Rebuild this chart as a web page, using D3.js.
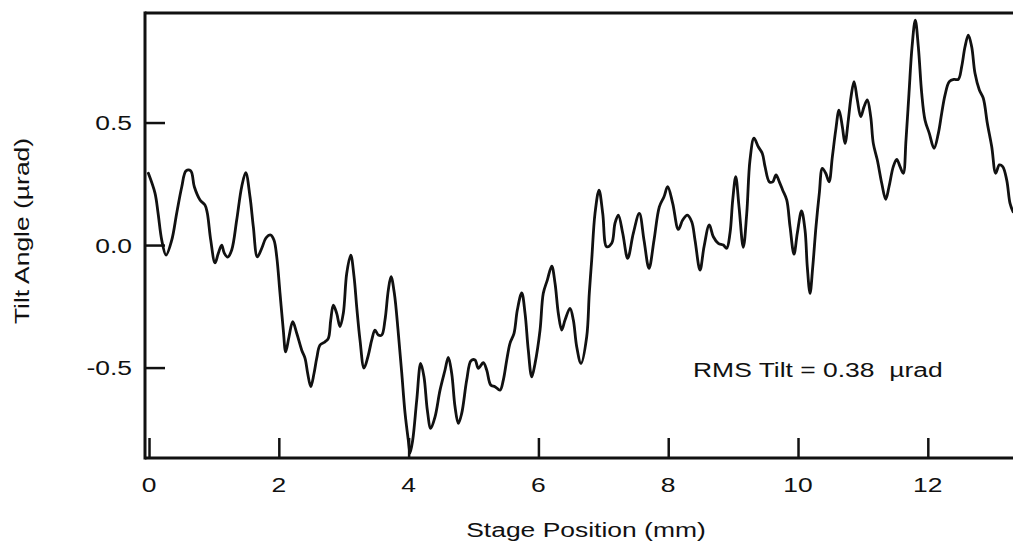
<!DOCTYPE html>
<html>
<head>
<meta charset="utf-8">
<script src="https://cdn.jsdelivr.net/npm/d3@7"></script>
<style>
  html, body { margin: 0; padding: 0; background: #fff; }
  svg { display: block; }
  text { font-family: "Liberation Sans", Arial, Helvetica, sans-serif; font-size: 21px; fill: #111; }
</style>
</head>
<body>
<svg id="chart" width="1013" height="544"></svg>
<script>
// ---- data ----
const xTicks = [0, 2, 4, 6, 8, 10, 12];
const xTickLabels = ["0", "2", "4", "6", "8", "10", "12"];
const yTicks = [-0.5, 0, 0.5];
const yTickLabels = ["-0.5", "0.0", "0.5"];
const xLabel = "Stage Position (mm)";
const yLabel = "Tilt Angle (\u00b5rad)";
const annotation = "RMS Tilt = 0.38 \u00a0\u00b5rad";

// stage position (mm)
const position = [
  -0.01, 0.092, 0.139, 0.196, 0.262, 0.350, 0.427, 0.504, 0.570, 0.643,
  0.698, 0.786, 0.863, 0.898, 0.951, 1.017, 1.068, 1.120, 1.160, 1.213,
  1.274, 1.351, 1.428, 1.490, 1.556, 1.607, 1.669, 1.737, 1.803, 1.875,
  1.926, 1.968, 2.018, 2.069, 2.106, 2.157, 2.214, 2.276, 2.353, 2.404,
  2.445, 2.492, 2.542, 2.584, 2.635, 2.712, 2.763, 2.800, 2.840, 2.892,
  2.943, 2.994, 3.046, 3.108, 3.159, 3.200, 3.251, 3.313, 3.379, 3.431,
  3.482, 3.533, 3.586, 3.636, 3.687, 3.729, 3.780, 3.841, 3.894, 3.945,
  3.995, 4.022, 4.063, 4.125, 4.186, 4.237, 4.288, 4.341, 4.407, 4.484,
  4.561, 4.612, 4.664, 4.715, 4.766, 4.818, 4.895, 4.961, 5.023, 5.074,
  5.151, 5.203, 5.265, 5.331, 5.408, 5.459, 5.512, 5.562, 5.624, 5.675,
  5.743, 5.794, 5.844, 5.897, 5.948, 6.025, 6.075, 6.137, 6.205, 6.256,
  6.307, 6.359, 6.410, 6.487, 6.538, 6.590, 6.656, 6.744, 6.784, 6.821,
  6.872, 6.934, 6.991, 7.052, 7.129, 7.180, 7.231, 7.299, 7.376, 7.462,
  7.555, 7.627, 7.704, 7.781, 7.863, 7.935, 7.992, 8.069, 8.156, 8.223,
  8.294, 8.362, 8.413, 8.490, 8.552, 8.633, 8.695, 8.772, 8.849, 8.901,
  8.952, 8.994, 9.040, 9.091, 9.157, 9.210, 9.260, 9.322, 9.388, 9.450,
  9.492, 9.558, 9.610, 9.661, 9.712, 9.764, 9.826, 9.877, 9.938, 9.989,
  10.054, 10.108, 10.143, 10.185, 10.227, 10.277, 10.328, 10.375, 10.427, 10.478,
  10.529, 10.581, 10.632, 10.683, 10.724, 10.775, 10.817, 10.863, 10.914, 10.966,
  11.017, 11.068, 11.120, 11.160, 11.222, 11.290, 11.351, 11.402, 11.468, 11.521,
  11.572, 11.622, 11.664, 11.710, 11.757, 11.807, 11.854, 11.906, 11.957, 12.023,
  12.096, 12.162, 12.214, 12.265, 12.331, 12.404, 12.470, 12.522, 12.573, 12.624,
  12.676, 12.727, 12.794, 12.855, 12.917, 12.985, 13.046, 13.102, 13.154, 13.216,
  13.267, 13.313
];

// tilt angle (µrad)
const tilt = [
  0.293, 0.212, 0.131, 0.020, -0.041, 0.020, 0.131, 0.237, 0.303, 0.303,
  0.238, 0.184, 0.163, 0.131, 0.020, -0.073, -0.033, 0.000, -0.033, -0.049,
  -0.020, 0.102, 0.238, 0.295, 0.197, 0.075, -0.048, -0.013, 0.029, 0.041,
  0.020, -0.048, -0.196, -0.347, -0.436, -0.374, -0.313, -0.360, -0.429, -0.462,
  -0.524, -0.578, -0.524, -0.462, -0.408, -0.395, -0.381, -0.306, -0.245, -0.279,
  -0.333, -0.278, -0.116, -0.041, -0.129, -0.252, -0.388, -0.502, -0.449, -0.388,
  -0.347, -0.367, -0.367, -0.306, -0.184, -0.129, -0.197, -0.359, -0.522, -0.686,
  -0.796, -0.849, -0.796, -0.633, -0.483, -0.538, -0.673, -0.748, -0.701, -0.592,
  -0.510, -0.458, -0.524, -0.660, -0.728, -0.687, -0.551, -0.472, -0.469, -0.503,
  -0.480, -0.510, -0.571, -0.578, -0.592, -0.551, -0.469, -0.401, -0.360, -0.265,
  -0.195, -0.279, -0.429, -0.538, -0.483, -0.347, -0.197, -0.143, -0.086, -0.156,
  -0.279, -0.347, -0.306, -0.258, -0.306, -0.415, -0.483, -0.374, -0.196, -0.061,
  0.129, 0.224, 0.129, -0.007, 0.007, 0.089, 0.122, 0.048, -0.054, 0.048,
  0.129, 0.020, -0.095, 0.020, 0.156, 0.197, 0.238, 0.170, 0.064, 0.102,
  0.122, 0.095, 0.020, -0.102, -0.007, 0.082, 0.034, 0.007, 0.000, -0.013,
  0.048, 0.184, 0.279, 0.156, -0.009, 0.129, 0.347, 0.436, 0.401, 0.374,
  0.320, 0.258, 0.258, 0.286, 0.258, 0.224, 0.184, 0.075, -0.037, 0.048,
  0.139, 0.061, -0.089, -0.197, -0.089, 0.075, 0.211, 0.313, 0.293, 0.258,
  0.360, 0.469, 0.551, 0.483, 0.415, 0.510, 0.605, 0.667, 0.592, 0.524,
  0.564, 0.592, 0.524, 0.415, 0.347, 0.252, 0.187, 0.238, 0.320, 0.350,
  0.320, 0.293, 0.429, 0.619, 0.809, 0.918, 0.809, 0.619, 0.510, 0.456,
  0.395, 0.456, 0.538, 0.612, 0.667, 0.676, 0.676, 0.728, 0.809, 0.857,
  0.809, 0.701, 0.633, 0.599, 0.497, 0.401, 0.293, 0.327, 0.320, 0.265,
  0.170, 0.136
];

// ---- layout ----
const W = 1013, H = 544;
const plot = { left: 145, right: 1014, top: 13, bottom: 458 };
const SX = 1.26;          // horizontal glyph expansion of the original typeface
const TICK = 20;

const svg = d3.select("#chart");

const x = d3.scaleLinear().domain([-0.062, 13.328]).range([plot.left, plot.right]);
const y = d3.scaleLinear().domain([-0.869, 0.947]).range([plot.bottom, plot.top]);

// clip
svg.append("defs").append("clipPath").attr("id", "clip")
  .append("rect").attr("x", plot.left).attr("y", plot.top - 2)
  .attr("width", plot.right - plot.left).attr("height", plot.bottom - plot.top + 2);

// data line
const data = position.map((p, i) => [p, tilt[i]]);
const line = d3.line().x(d => x(d[0])).y(d => y(d[1])).curve(d3.curveCatmullRom.alpha(0.5));
svg.append("path")
  .attr("clip-path", "url(#clip)")
  .attr("d", line(data))
  .attr("fill", "none")
  .attr("stroke", "#111")
  .attr("stroke-width", 2.8)
  .attr("stroke-linejoin", "round")
  .attr("stroke-linecap", "round");

// axes (ticks pointing inward)
const xAxis = d3.axisBottom(x).tickValues(xTicks).tickSize(-TICK).tickFormat("");
const gx = svg.append("g").attr("transform", `translate(0,${plot.bottom})`).call(xAxis);
gx.select(".domain").remove();
gx.selectAll(".tick line").attr("stroke", "#111").attr("stroke-width", 2.5);

const yAxis = d3.axisLeft(y).tickValues(yTicks).tickSize(-TICK).tickFormat("");
const gy = svg.append("g").attr("transform", `translate(${plot.left},0)`).call(yAxis);
gy.select(".domain").remove();
gy.selectAll(".tick line").attr("stroke", "#111").attr("stroke-width", 2.5);

// frame (top, left, bottom)
const frame = svg.append("g").attr("stroke", "#111").attr("stroke-width", 3).attr("fill", "none");
frame.append("line").attr("x1", plot.left).attr("x2", plot.right).attr("y1", plot.top).attr("y2", plot.top);
frame.append("line").attr("x1", plot.left).attr("x2", plot.right).attr("y1", plot.bottom).attr("y2", plot.bottom);
frame.append("line").attr("x1", plot.left).attr("x2", plot.left).attr("y1", plot.top - 1.5).attr("y2", plot.bottom + 1.5);

// text helper with horizontal expansion
function label(px, py, str, anchor, rot) {
  svg.append("text")
    .attr("transform", `translate(${px},${py}) rotate(${rot || 0}) scale(${SX},1)`)
    .attr("text-anchor", anchor)
    .text(str);
}

xTicks.forEach((t, i) => label(x(t), 492, xTickLabels[i], "middle"));
yTicks.forEach((t, i) => label(plot.left - 13, y(t) + 7.5, yTickLabels[i], "end"));

label(586, 537, xLabel, "middle");
label(29, 231, yLabel, "middle", -90);
label(693, 377, annotation, "start");
</script>
</body>
</html>
